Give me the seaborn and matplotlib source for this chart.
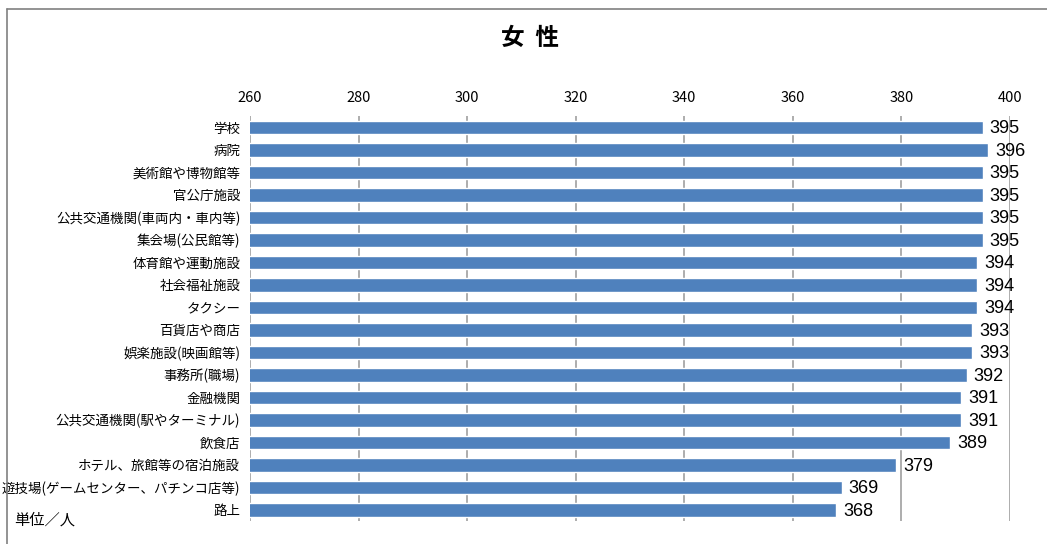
import matplotlib
matplotlib.use("Agg")
import matplotlib.pyplot as plt
import seaborn as sns
import pandas as pd
from matplotlib.lines import Line2D

categories = [
    "学校", "病院", "美術館や博物館等", "官公庁施設", "公共交通機関(車両内・車内等)",
    "集会場(公民館等)", "体育館や運動施設", "社会福祉施設", "タクシー", "百貨店や商店",
    "娯楽施設(映画館等)", "事務所(職場)", "金融機関", "公共交通機関(駅やターミナル)",
    "飲食店", "ホテル、旅館等の宿泊施設", "遊技場(ゲームセンター、パチンコ店等)", "路上",
]
values = [395, 396, 395, 395, 395, 395, 394, 394, 394, 393, 393, 392, 391, 391, 389, 379, 369, 368]
xticks = [260, 280, 300, 320, 340, 360, 380, 400]

sns.set_theme(style="white")
plt.rcParams['font.family'] = ['Noto Sans CJK JP', 'DejaVu Sans']

df = pd.DataFrame({"cat": categories, "val": values})

fig = plt.figure(figsize=(10.47, 5.44), dpi=100)
ax = fig.add_axes([250/1047, 1-521/544, (1010-250)/1047, (521-116)/544])

sns.barplot(data=df, y="cat", x="val", orient="h", color="#4F81BD",
            saturation=1, width=0.6, ax=ax, zorder=3)

ax.set_xlim(260, 400)
ax.set_ylim(len(categories) - 0.5, -0.5)
ax.set_xticks(xticks)
ax.xaxis.tick_top()
ax.tick_params(axis='x', length=0, pad=8, labelsize=10.5, colors="#000000")
ax.tick_params(axis='y', length=0, pad=7, labelsize=9.7, colors="#000000")
ax.set_xlabel("")
ax.set_ylabel("")
for s in ax.spines.values():
    s.set_visible(False)
ax.grid(axis='x', color="#a0a0a0", linewidth=1.2, linestyle="-", zorder=0)
ax.set_axisbelow(True)

for i, v in enumerate(values):
    ax.annotate(str(v), xy=(v, i), xytext=(5, -1), textcoords="offset points",
                ha="left", va="center", fontsize=13, color="#000000",
                family=['Liberation Sans Narrow', 'Liberation Sans', 'DejaVu Sans'])

fig.text(530/1047, 1-38/544, "女  性", ha="center", va="center",
         fontsize=17, fontweight="bold", color="#000000")
fig.text(14/1047, 1-520/544, "単位／人", ha="left", va="center", fontsize=11, color="#000000")

# outer frame (gray) at top and left
fig.add_artist(Line2D([7/1047, 7/1047], [1-9/544, 0], transform=fig.transFigure,
                      color="#808080", linewidth=1.2))
fig.add_artist(Line2D([7/1047, 1], [1-9/544, 1-9/544], transform=fig.transFigure,
                      color="#808080", linewidth=1.2))

fig.savefig("out.png", dpi=100)
